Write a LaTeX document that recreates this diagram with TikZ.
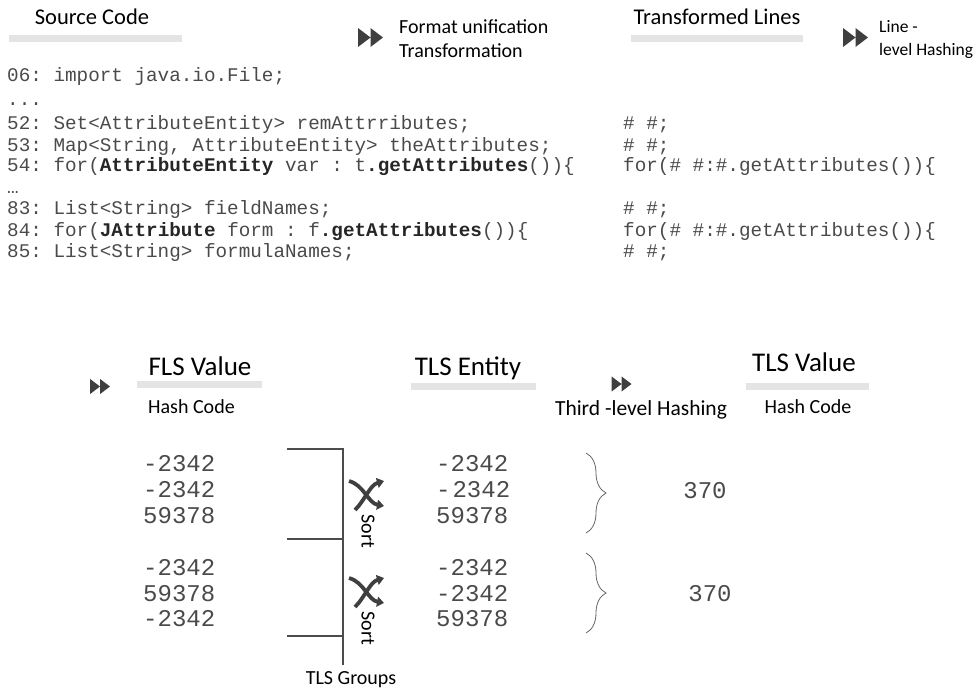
\documentclass[tikz,border=0pt]{standalone}
\usepackage{fontspec}
\setmainfont{Carlito}
\newfontfamily\codefont{Liberation Mono}
\usetikzlibrary{arrows.meta,decorations.pathreplacing}
\frenchspacing

\definecolor{bargray}{HTML}{E4E4E4}
\definecolor{icongray}{HTML}{3F3F3F}
\definecolor{codegray}{HTML}{4A4A4A}

\tikzset{
  head/.style={font=\fontsize{22.5}{26}\selectfont, inner sep=0pt},
  bighead/.style={font=\fontsize{27}{31}\selectfont, inner sep=0pt},
  note/.style={font=\fontsize{20}{24}\selectfont, inner sep=0pt},
  smallnote/.style={font=\fontsize{17.5}{21}\selectfont, inner sep=0pt, anchor=west},
  bar/.style={fill=bargray, inner sep=0pt, minimum height=7pt},
  code/.style={font=\codefont\fontsize{19.3}{22}\selectfont, text=codegray,
    anchor=west, inner sep=0pt, text height=14pt, text depth=4pt},
  num/.style={font=\codefont\fontsize{24}{28}\selectfont, text=codegray,
    anchor=west, inner sep=0pt, text height=17pt, text depth=4pt},
  groupline/.style={draw=black!70, line width=1.1pt},
  hashbrace/.style={draw=black!60, line width=0.8pt, decorate,
    decoration={brace, amplitude=20pt}},
  sortarr/.style={draw=icongray, line width=3.8pt, -{Triangle[width=10pt,length=7pt]}},
  ffwd/.pic={
    \fill[icongray] (-12.5,-9.5) -- (0,0) -- (-12.5,9.5) -- cycle
                    (0,-9.5) -- (12.5,0) -- (0,9.5) -- cycle;
  },
  shuffle/.pic={
    \draw[sortarr] (-17,-13) .. controls (-2,-9) and (2,9) .. (18,12);
    \draw[sortarr] (-11,16) .. controls (-1,6) and (4,-9) .. (18,-13);
  }
}
\newcommand{\bcode}[1]{\textcolor{black!85}{\textbf{#1}}}

\begin{document}
\begin{tikzpicture}[x=1pt,y=-1pt]
  \useasboundingbox (0,0) rectangle (978,689);

  % top headers
  \node[head] (srchead) at (92,17) {Source Code};
  \node[bar, minimum width=173pt] (srcbar) at (95.5,38) {};
  \pic at (370.5,37.5) {ffwd};
  \node[note, anchor=west] (fmt1) at (399,27) {Format unification};
  \node[note, anchor=west] (fmt2) at (399,51) {Transformation};
  \node[head] (trhead) at (717,17) {Transformed Lines};
  \node[bar, minimum width=172pt] (trbar) at (717,38) {};
  \pic at (855.5,37.5) {ffwd};
  \node[smallnote] (lh1) at (879,27) {Line -};
  \node[smallnote] (lh2) at (879,51) {level Hashing};

  % source code
  \node[code] (l06) at (7,76) {06: import java.io.File;};
  \node[code] (ld1) at (7,100) {...};
  \node[code] (l52) at (7,124) {52: Set<AttributeEntity> remAttrributes;};
  \node[code] (l53) at (7,146) {53: Map<String, AttributeEntity> theAttributes;};
  \node[code] (l54) at (7,166) {54: for(\bcode{AttributeEntity} var : t\bcode{.getAttributes}())\{};
  \node[code] (ld2) at (7,188) {…};
  \node[code] (l83) at (7,209) {83: List<String> fieldNames;};
  \node[code] (l84) at (7,231) {84: for(\bcode{JAttribute} form : f\bcode{.getAttributes}())\{};
  \node[code] (l85) at (7,252) {85: List<String> formulaNames;};

  % transformed lines
  \node[code] (r52) at (623,124) {\# \#;};
  \node[code] (r53) at (623,146) {\# \#;};
  \node[code] (r54) at (623,166) {for(\# \#:\#.getAttributes())\{};
  \node[code] (r83) at (623,209) {\# \#;};
  \node[code] (r84) at (623,231) {for(\# \#:\#.getAttributes())\{};
  \node[code] (r85) at (623,252) {\# \#;};

  % lower headers
  \pic[scale=0.8] at (100,386.5) {ffwd};
  \node[bighead] (flshead) at (200,366) {FLS Value};
  \node[bar, minimum width=125pt] (flsbar) at (199.5,384.5) {};
  \node[note, anchor=west] (flshash) at (148,407) {Hash Code};
  \node[bighead] (enthead) at (468,368) {TLS Entity};
  \node[bar, minimum width=125pt] (entbar) at (473.5,386) {};
  \pic[scale=0.8] at (621.5,384) {ffwd};
  \node[note, font=\fontsize{21.5}{25}\selectfont] (third) at (641,410) {Third -level Hashing};
  \node[bighead] (tlshead) at (804,362) {TLS Value};
  \node[bar, minimum width=123pt] (tlsbar) at (807.5,386) {};
  \node[note] (tlshash) at (808,407) {Hash Code};

  % FLS values
  \node[num] (f1a) at (143,465) {-2342};
  \node[num] (f1b) at (143,491) {-2342};
  \node[num] (f1c) at (143,517) {59378};
  \node[num] (f2a) at (143,569) {-2342};
  \node[num] (f2b) at (143,595) {59378};
  \node[num] (f2c) at (143,620) {-2342};

  % TLS groups
  \coordinate (gtop) at (343,449);
  \coordinate (gmid) at (343,539);
  \coordinate (glow) at (343,636);
  \coordinate (gend) at (343,665);
  \coordinate (g1) at (287,449);
  \coordinate (g2) at (287,539);
  \coordinate (g3) at (287,636);
  \draw[groupline] (g1) -- (gtop) -- (gend);
  \draw[groupline] (g2) -- (gmid);
  \draw[groupline] (g3) -- (glow);
  \pic at (366,494) {shuffle};
  \node[note, rotate=-90] (sort1) at (368,531) {Sort};
  \pic at (366,591) {shuffle};
  \node[note, rotate=-90] (sort2) at (368,628) {Sort};
  \node[note] (groups) at (351,680) {TLS Groups};

  % TLS entities
  \node[num] (e1a) at (436,465) {-2342};
  \node[num] (e1b) at (436,491) {-\kern2pt 2342};
  \node[num] (e1c) at (436,517) {59378};
  \node[num] (e2a) at (436,569) {-2342};
  \node[num] (e2b) at (436,595) {-2342};
  \node[num] (e2c) at (436,620) {59378};

  % TLS values
  \coordinate (b1t) at (586,453);
  \coordinate (b1b) at (586,533);
  \coordinate (b2t) at (586,553);
  \coordinate (b2b) at (586,633);
  \draw[hashbrace] (b1t) -- (b1b);
  \draw[hashbrace] (b2t) -- (b2b);
  \node[num, anchor=center] (v1) at (705,492) {370};
  \node[num, anchor=center] (v2) at (710,595) {370};
\end{tikzpicture}
\end{document}
